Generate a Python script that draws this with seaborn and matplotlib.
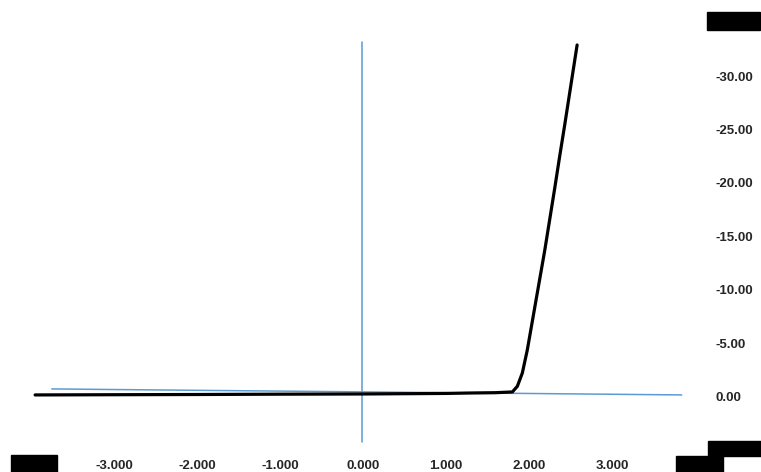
"""Diode style I-V curve with hand drawn axes"""

import matplotlib
matplotlib.use("Agg")
import matplotlib.pyplot as plt
import matplotlib.ticker as mticker
import pandas as pd
import seaborn as sns
from matplotlib.patches import Rectangle

# curve (voltage, current); current is stored negative, axis is inverted
voltage = [-3.95, -3.0, -2.0, -1.0, 0.0, 1.0, 1.29, 1.60, 1.80, 1.86, 1.92, 1.98, 2.05,
           2.12, 2.19, 2.25, 2.31, 2.37, 2.43, 2.50, 2.58]
current = [-0.19, -0.21, -0.23, -0.26, -0.28, -0.33, -0.37, -0.40, -0.47, -1.0, -2.24, -4.4, -7.5,
           -10.6, -13.7, -16.6, -19.5, -22.5, -25.4, -28.9, -32.9]

# the two blue reference lines
h_axis_x = [-3.75, 3.84]
h_axis_y = [-0.75, -0.19]
v_axis_x = [-0.01, -0.01]
v_axis_y = [-33.2, 4.2]

x_ticks = [-3, -2, -1, 0, 1, 2, 3]
y_ticks = [0, -5, -10, -15, -20, -25, -30]

sns.set_style("white")
matplotlib.rcParams['font.family'] = ["Liberation Sans", "DejaVu Sans"]
matplotlib.rcParams['axes.unicode_minus'] = False

df = pd.DataFrame({'V': voltage, 'I': current})

fig = plt.figure(figsize=(7.61, 4.72), dpi=100)
ax = fig.add_axes([0.0, 27 / 472, 690 / 761, 415 / 472])

ax.plot(h_axis_x, h_axis_y, color="#5b9bd5", lw=1.1, zorder=1)
ax.plot(v_axis_x, v_axis_y, color="#5b9bd5", lw=1.1, zorder=1)
sns.lineplot(data=df, x='V', y='I', sort=False, color="black", lw=2.3, ax=ax, zorder=2)

ax.set_xlim(-4.373, 3.94)
ax.set_ylim(4.49, -34.3)
ax.set_xticks(x_ticks)
ax.set_yticks(y_ticks)
ax.xaxis.set_major_formatter(mticker.FormatStrFormatter('%.3f'))
ax.yaxis.set_major_formatter(mticker.FormatStrFormatter('%.2f'))
ax.yaxis.tick_right()
ax.tick_params(axis='x', length=0, pad=11, labelsize=9.5)
ax.tick_params(axis='y', length=0, pad=18, labelsize=9.5)
for lab in ax.get_xticklabels() + ax.get_yticklabels():
    lab.set_fontweight('bold')
ax.set_xlabel("")
ax.set_ylabel("")
for s in ax.spines.values():
    s.set_visible(False)

# black blocks covering the corners
for (x0, y0, x1, y1) in [(707, 12, 760, 30), (11, 455, 57, 472), (676, 456, 723, 472), (708, 441, 761, 456)]:
    fig.patches.append(Rectangle((x0 / 761, 1 - y1 / 472), (x1 - x0) / 761, (y1 - y0) / 472,
                                 transform=fig.transFigure, color="black", zorder=5))

fig.savefig("out.png", dpi=100)
